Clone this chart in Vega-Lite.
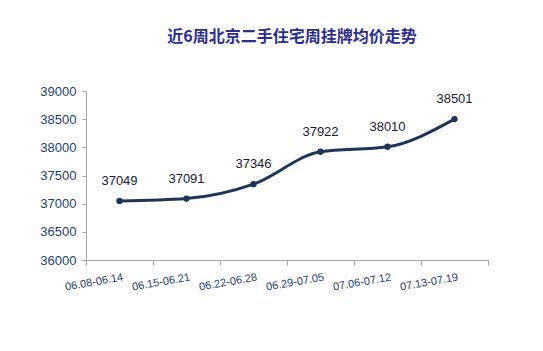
{
  "$schema": "https://vega.github.io/schema/vega-lite/v6.json",
  "width": 402,
  "height": 169,
  "autosize": {"type": "none"},
  "padding": {"left": 86, "top": 91, "right": 55, "bottom": 91},
  "background": "white",
  "title": {
    "text": "近6周北京二手住宅周挂牌均价走势",
    "font": "Noto Sans CJK SC",
    "fontSize": 16,
    "fontWeight": "bold",
    "color": "#2B2E8C",
    "anchor": "middle",
    "offset": 40,
    "dx": 5
  },
  "data": {
    "values": [
      {"week": "06.08-06.14", "price": 37049},
      {"week": "06.15-06.21", "price": 37091},
      {"week": "06.22-06.28", "price": 37346},
      {"week": "06.29-07.05", "price": 37922},
      {"week": "07.06-07.12", "price": 38010},
      {"week": "07.13-07.19", "price": 38501}
    ]
  },
  "encoding": {
    "x": {
      "field": "week",
      "type": "ordinal",
      "sort": null,
      "title": null,
      "scale": {"paddingInner": 0, "paddingOuter": 0},
      "axis": {
        "labelAngle": -10,
        "labelAlign": "right",
        "labelBaseline": "top",
        "labelFont": "Liberation Sans",
        "labelFontSize": 11,
        "labelColor": "#1F3F6E",
        "labelPadding": 6,
        "labelOffset": 2,
        "domainColor": "#A6A6A6",
        "tickColor": "#A6A6A6",
        "tickBand": "extent",
        "tickSize": 5
      }
    },
    "y": {
      "field": "price",
      "type": "quantitative",
      "title": null,
      "scale": {"domain": [36000, 39000], "nice": false, "zero": false},
      "axis": {
        "values": [36000, 36500, 37000, 37500, 38000, 38500, 39000],
        "format": "d",
        "grid": false,
        "labelFont": "Liberation Sans",
        "labelFontSize": 13,
        "labelColor": "#1F3F6E",
        "labelPadding": 6,
        "domainColor": "#A6A6A6",
        "tickColor": "#A6A6A6",
        "tickSize": 4
      }
    }
  },
  "layer": [
    {
      "mark": {"type": "line", "interpolate": "monotone", "color": "#1F3557", "strokeWidth": 3}
    },
    {
      "mark": {"type": "point", "filled": true, "color": "#1F3557", "size": 40, "opacity": 1}
    },
    {
      "mark": {"type": "text", "dy": -20, "font": "Liberation Sans", "fontSize": 13, "color": "#1A1A33"},
      "encoding": {"text": {"field": "price", "type": "quantitative", "format": "d"}}
    }
  ],
  "config": {"view": {"stroke": null}}
}
